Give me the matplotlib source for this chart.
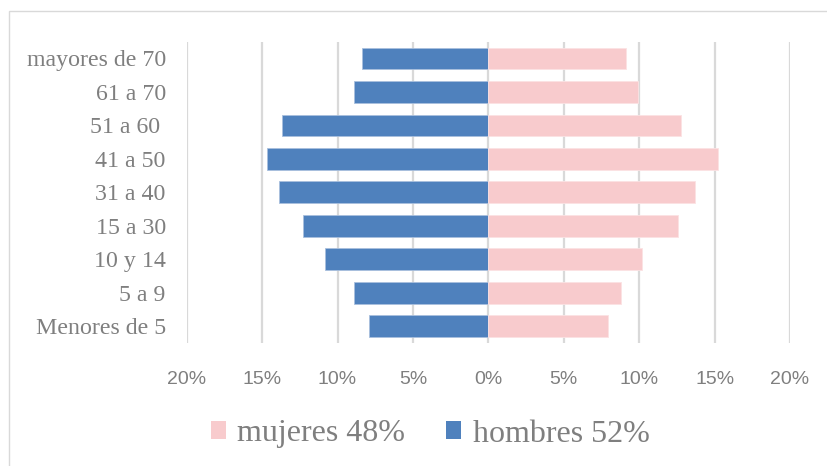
import matplotlib
matplotlib.use('Agg')
import matplotlib.pyplot as plt
from matplotlib.patches import Rectangle, Patch
import numpy as np

# grupos de edad, de abajo hacia arriba
grupos = ['Menores de 5', '5 a 9', '10 y 14', '15 a 30', '31 a 40',
          '41 a 50', '51 a 60 ', '61 a 70', 'mayores de 70']
hombres = [7.9, 8.9, 10.8, 12.3, 13.9, 14.7, 13.7, 8.9, 8.4]
mujeres = [7.9, 8.8, 10.2, 12.6, 13.7, 15.2, 12.8, 9.9, 9.1]
ticks = [-20, -15, -10, -5, 0, 5, 10, 15, 20]
tick_labels = [str(abs(t)) + '%' for t in ticks]
legend_labels = ['mujeres 48%', 'hombres 52%']

azul = '#4f81bd'
rosa = '#f8cbcd'
gris = '#7f7f7f'

W, H = 827, 466
fig = plt.figure(figsize=(W / 100, H / 100), dpi=100)
fig.patch.set_facecolor('white')

# borde del area del grafico
fig.patches.append(Rectangle((9 / W, -0.1), 1.2, 1 - 11 / H + 0.1,
                             transform=fig.transFigure, fill=False,
                             edgecolor='#d9d9d9', linewidth=1.0))

ax = fig.add_axes([186.7 / W, 1 - 343 / H, (790 - 186.7) / W, (343 - 41.7) / H])
y = np.arange(len(grupos))
ax.barh(y, -np.array(hombres), height=0.65, color=azul, edgecolor='#a9c0de',
        linewidth=0.6, zorder=3)
ax.barh(y, mujeres, height=0.65, color=rosa, edgecolor='#fbe2e3',
        linewidth=0.6, zorder=3)

ax.set_xlim(-20, 20)
ax.set_ylim(-0.5, len(grupos) - 0.5)
ax.set_xticks(ticks)
ax.set_xticklabels(tick_labels, fontsize=14, color=gris, family='Liberation Sans')
ax.set_yticks(y)
ax.set_yticklabels(grupos, fontsize=17.2, color=gris, family='Liberation Serif')
ax.tick_params(axis='x', length=0, pad=20)
ax.tick_params(axis='y', length=0, pad=15)
for s in ax.spines.values():
    s.set_visible(False)
ax.grid(axis='x', color='#d9d9d9', linewidth=1.6, zorder=0)
ax.set_axisbelow(True)

handles = [Patch(facecolor=rosa, edgecolor='none'),
           Patch(facecolor=azul, edgecolor='none')]
fig.legend(handles, legend_labels, loc='center', bbox_to_anchor=(430 / W, 1 - 434 / H),
           ncol=2, frameon=False, prop={'family': 'Liberation Serif', 'size': 23},
           labelcolor=gris, handlelength=0.47, handleheight=0.47, handletextpad=0.35,
           columnspacing=1.3)

fig.savefig('out.png', dpi=100)
